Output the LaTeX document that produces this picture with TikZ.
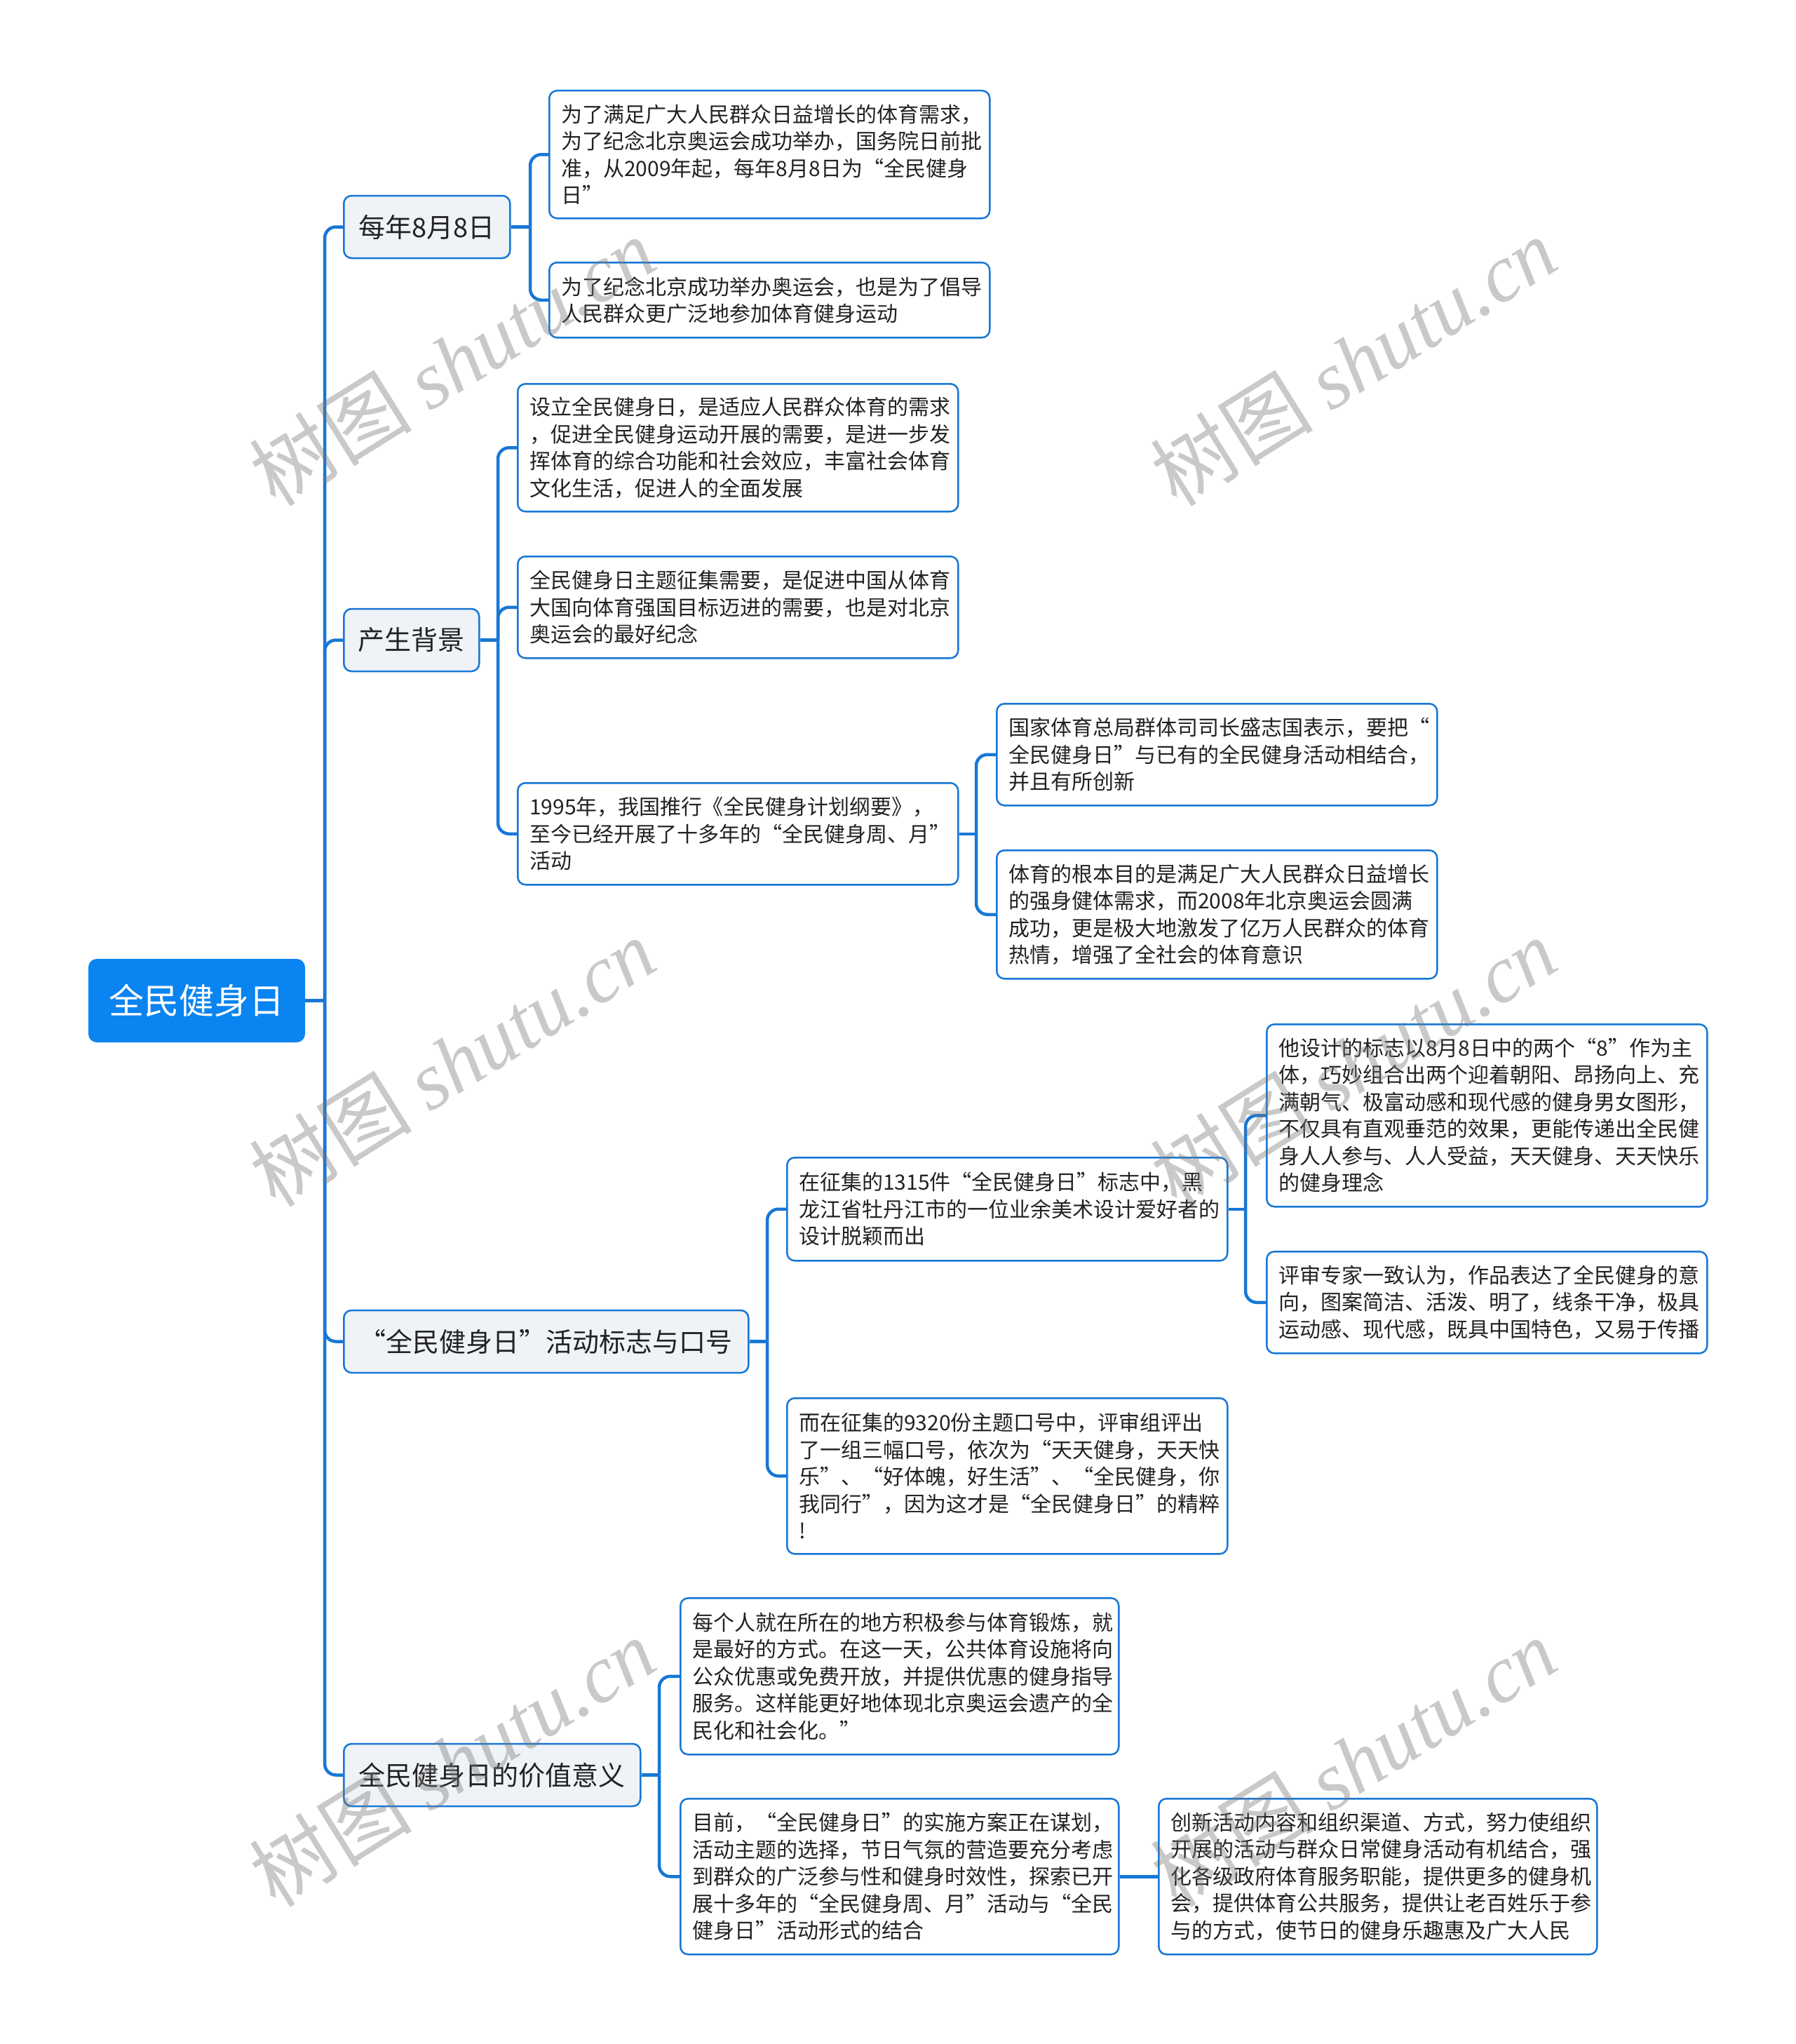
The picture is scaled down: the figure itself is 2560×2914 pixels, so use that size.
\documentclass[tikz,border=0pt]{standalone}
\usepackage{fontspec}
\setmainfont{Noto Sans CJK SC}
\newfontfamily\wmserif{Liberation Serif}
\definecolor{lineblue}{RGB}{23,119,214}
\definecolor{rootblue}{RGB}{10,132,240}
\definecolor{topicfill}{RGB}{239,243,248}
\definecolor{txt}{RGB}{34,34,34}
\definecolor{wmgray}{RGB}{120,120,120}
\begin{document}
\begin{tikzpicture}[x=1pt,y=-1pt,
  conn/.style={draw=lineblue, line width=4.5pt, rounded corners=16pt},
  leaf/.style={draw=lineblue, line width=2.5pt, fill=white, rounded corners=11pt,
    inner xsep=17pt, inner ysep=0pt, text width=594pt, align=left,
    font=\fontsize{30}{38.5}\selectfont, text=txt, anchor=north west},
  topic/.style={draw=lineblue, line width=2.5pt, fill=topicfill, rounded corners=11pt,
    inner sep=0pt, align=center, font=\fontsize{38}{46}\selectfont, text=txt, anchor=west,
    minimum height=89pt},
  rootnode/.style={draw=none, fill=rootblue, rounded corners=12pt, inner sep=0pt,
    minimum width=309pt, minimum height=119pt, font=\fontsize{50}{60}\selectfont, text=white},
  wm/.style={rotate=32, text=wmgray, text opacity=0.4, font=\fontsize{116}{128}\selectfont, inner sep=0pt}
  ]
\fill[white] (0,0) rectangle (2560,2914);
\useasboundingbox (0,0) rectangle (2560,2914);

% root and topics
\node[rootnode] (root) at (280.5,1426.5) {全民健身日};
\node[topic, minimum width=237pt] (b1) at (489,323.5) {每年8月8日};
\node[topic, minimum width=193pt] (b2) at (489,912.5) {产生背景};
\node[topic, minimum width=577pt] (b3) at (489,1912.5) {“全民健身日”活动标志与口号};
\node[topic, minimum width=423pt] (b4) at (489,2530.5) {全民健身日的价值意义};

% leaves
\node[leaf, minimum height=182pt] (a1) at (782,128) {为了满足广大人民群众日益增长的体育需求，\\为了纪念北京奥运会成功举办，国务院日前批\\准，从2009年起，每年8月8日为“全民健身\\日”};
\node[leaf, minimum height=107pt] (a2) at (782,373) {为了纪念北京成功举办奥运会，也是为了倡导\\人民群众更广泛地参加体育健身运动};

\node[leaf, minimum height=182pt] (c1) at (737,546) {设立全民健身日，是适应人民群众体育的需求\\，促进全民健身运动开展的需要，是进一步发\\挥体育的综合功能和社会效应，丰富社会体育\\文化生活，促进人的全面发展};
\node[leaf, minimum height=145pt] (c2) at (737,792) {全民健身日主题征集需要，是促进中国从体育\\大国向体育强国目标迈进的需要，也是对北京\\奥运会的最好纪念};
\node[leaf, minimum height=145pt] (c3) at (737,1115) {1995年，我国推行《全民健身计划纲要》，\\至今已经开展了十多年的“全民健身周、月”\\活动};

\node[leaf, minimum height=145pt] (d1) at (1420,1002) {国家体育总局群体司司长盛志国表示，要把“\\全民健身日”与已有的全民健身活动相结合，\\并且有所创新};
\node[leaf, minimum height=183pt] (d2) at (1420,1211) {体育的根本目的是满足广大人民群众日益增长\\的强身健体需求，而2008年北京奥运会圆满\\成功，更是极大地激发了亿万人民群众的体育\\热情，增强了全社会的体育意识};

\node[leaf, minimum height=147pt] (e1) at (1121,1649) {在征集的1315件“全民健身日”标志中，黑\\龙江省牡丹江市的一位业余美术设计爱好者的\\设计脱颖而出};
\node[leaf, minimum height=222pt] (e2) at (1121,1992) {而在征集的9320份主题口号中，评审组评出\\了一组三幅口号，依次为“天天健身，天天快\\乐”、“好体魄，好生活”、“全民健身，你\\我同行”，因为这才是“全民健身日”的精粹\\!};

\node[leaf, minimum height=260pt] (f1) at (1805,1459) {他设计的标志以8月8日中的两个“8”作为主\\体，巧妙组合出两个迎着朝阳、昂扬向上、充\\满朝气、极富动感和现代感的健身男女图形，\\不仅具有直观垂范的效果，更能传递出全民健\\身人人参与、人人受益，天天健身、天天快乐\\的健身理念};
\node[leaf, minimum height=145pt] (f2) at (1805,1783) {评审专家一致认为，作品表达了全民健身的意\\向，图案简洁、活泼、明了，线条干净，极具\\运动感、现代感，既具中国特色，又易于传播};

\node[leaf, minimum height=223pt, text width=591pt] (g1) at (969,2277) {每个人就在所在的地方积极参与体育锻炼，就\\是最好的方式。在这一天，公共体育设施将向\\公众优惠或免费开放，并提供优惠的健身指导\\服务。这样能更好地体现北京奥运会遗产的全\\民化和社会化。”};
\node[leaf, minimum height=222pt, text width=591pt] (g2) at (969,2563) {目前，“全民健身日”的实施方案正在谋划，\\活动主题的选择，节日气氛的营造要充分考虑\\到群众的广泛参与性和健身时效性，探索已开\\展十多年的“全民健身周、月”活动与“全民\\健身日”活动形式的结合};
\node[leaf, minimum height=222pt, text width=591pt] (h1) at (1651,2563) {创新活动内容和组织渠道、方式，努力使组织\\开展的活动与群众日常健身活动有机结合，强\\化各级政府体育服务职能，提供更多的健身机\\会，提供体育公共服务，提供让老百姓乐于参\\与的方式，使节日的健身乐趣惠及广大人民};

% bus coordinates
\coordinate (t0) at (463,0);
\coordinate (u1) at (756,0);
\coordinate (u2) at (710,0);
\coordinate (u3) at (1392,0);
\coordinate (u4) at (1094,0);
\coordinate (u5) at (1776,0);
\coordinate (u6) at (940,0);

% root -> topics
\draw[conn] (root.east) -- (root.east -| t0);
\foreach \c in {b1,b2,b3,b4}{
  \draw[conn] (root.east -| t0) -- (\c.west -| t0) -- (\c.west);
}
% b1 -> a
\draw[conn] (b1.east) -- (b1.east -| u1);
\foreach \c in {a1,a2}{
  \draw[conn] (b1.east -| u1) -- (\c.west -| u1) -- (\c.west);
}
% b2 -> c
\draw[conn] (b2.east) -- (b2.east -| u2);
\foreach \c in {c1,c2,c3}{
  \draw[conn] (b2.east -| u2) -- (\c.west -| u2) -- (\c.west);
}
% c3 -> d
\draw[conn] (c3.east) -- (c3.east -| u3);
\foreach \c in {d1,d2}{
  \draw[conn] (c3.east -| u3) -- (\c.west -| u3) -- (\c.west);
}
% b3 -> e
\draw[conn] (b3.east) -- (b3.east -| u4);
\foreach \c in {e1,e2}{
  \draw[conn] (b3.east -| u4) -- (\c.west -| u4) -- (\c.west);
}
% e1 -> f
\draw[conn] (e1.east) -- (e1.east -| u5);
\foreach \c in {f1,f2}{
  \draw[conn] (e1.east -| u5) -- (\c.west -| u5) -- (\c.west);
}
% b4 -> g
\draw[conn] (b4.east) -- (b4.east -| u6);
\foreach \c in {g1,g2}{
  \draw[conn] (b4.east -| u6) -- (\c.west -| u6) -- (\c.west);
}
% g2 -> h1
\draw[conn] (g2.east) -- (h1.west);

% watermarks
\node[wm] (w1) at (645,515) {树图 {\wmserif\itshape shutu.cn}};
\node[wm] (w2) at (1930,515) {树图 {\wmserif\itshape shutu.cn}};
\node[wm] (w3) at (645,1514) {树图 {\wmserif\itshape shutu.cn}};
\node[wm] (w4) at (1930,1514) {树图 {\wmserif\itshape shutu.cn}};
\node[wm] (w5) at (645,2512) {树图 {\wmserif\itshape shutu.cn}};
\node[wm] (w6) at (1930,2512) {树图 {\wmserif\itshape shutu.cn}};
\end{tikzpicture}
\end{document}
